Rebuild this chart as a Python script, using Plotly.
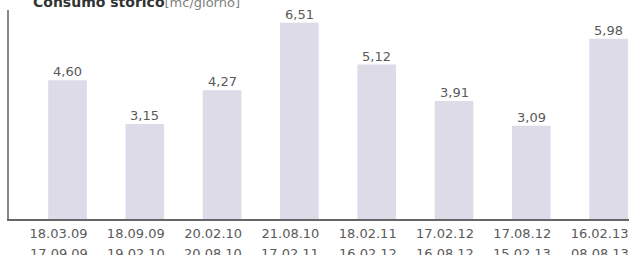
import plotly.graph_objects as go

period_start = ["18.03.09", "18.09.09", "20.02.10", "21.08.10",
                "18.02.11", "17.02.12", "17.08.12", "16.02.13"]
period_end = ["17.09.09", "19.02.10", "20.08.10", "17.02.11",
              "16.02.12", "16.08.12", "15.02.13", "08.08.13"]
consumo = [4.60, 3.15, 4.27, 6.51, 5.12, 3.91, 3.09, 5.98]

categories = [f"{s} - {e}" for s, e in zip(period_start, period_end)]
labels = [f"{v:.2f}".replace(".", ",") for v in consumo]

W, H = 630, 255
L, R, T, B = 9, 1, 10, 36
PH = H - T - B
FONT = "DejaVu Sans"
GREY = "#5a5a5a"

fig = go.Figure(go.Bar(
    x=categories, y=consumo, width=0.5,
    marker=dict(color="#dcdbe7", line=dict(width=0)),
    hoverinfo="skip",
))

annotations = [dict(
    text="<b>Consumo storico</b><span style='color:#808080;font-size:13px'>[mc/giorno]</span>",
    xref="paper", yref="paper", x=(31 - L) / (W - L - R), y=1.0,
    xanchor="left", yanchor="bottom", yshift=-2, showarrow=False,
    font=dict(family=FONT, size=14, color="#333333"))]

for cat, val, lab in zip(categories, consumo, labels):
    annotations.append(dict(
        text=lab, xref="x", yref="y", x=cat, y=val,
        xanchor="center", yanchor="bottom", yshift=-1, showarrow=False,
        font=dict(family=FONT, size=13, color=GREY)))

for cat, end in zip(categories, period_end):
    annotations.append(dict(
        text=end, xref="x", yref="paper", x=cat, y=-(244 - (H - B)) / PH,
        xanchor="center", yanchor="top", xshift=-9, showarrow=False,
        font=dict(family=FONT, size=13, color=GREY)))

fig.update_layout(
    width=W, height=H,
    margin=dict(l=L, r=R, t=T, b=B, autoexpand=False),
    paper_bgcolor="white", plot_bgcolor="white",
    showlegend=False,
    font=dict(family=FONT, size=13, color=GREY),
    xaxis=dict(type="category", range=[-0.757, 7.264], showline=True,
               linecolor="#666666", linewidth=1.5, ticks="", showgrid=False,
               tickvals=categories, ticktext=period_start,
               ticklabelshift=-9, ticklabelstandoff=2,
               automargin=False, tickfont=dict(family=FONT, size=13, color=GREY)),
    yaxis=dict(range=[0, 6.93], showline=True, linecolor="#888888", linewidth=1.5,
               showticklabels=False, ticks="", showgrid=False, zeroline=False,
               automargin=False),
    annotations=annotations,
)

fig.write_html("out.html", config={"displayModeBar": False},
               post_script="document.body.style.margin='0';")
